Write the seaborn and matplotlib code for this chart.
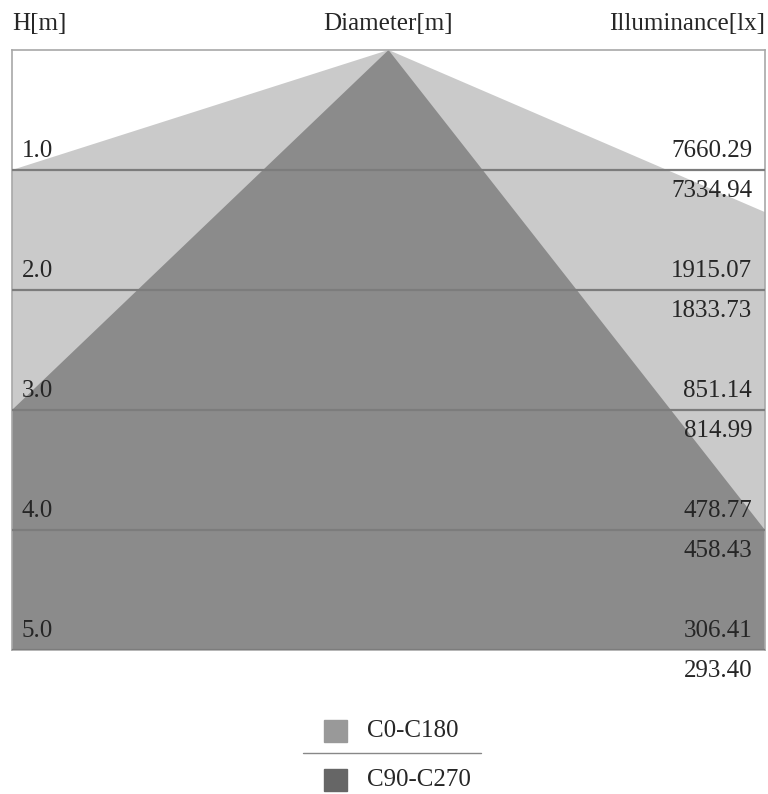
import numpy as np
import pandas as pd
import seaborn as sns
from matplotlib import pyplot as plt
from matplotlib.patches import Rectangle
from matplotlib.lines import Line2D

# mounting heights and illuminance per plane
heights = [1.0, 2.0, 3.0, 4.0, 5.0]
lux_c0 = [7660.29, 1915.07, 851.14, 478.77, 306.41]
lux_c90 = [7334.94, 1833.73, 814.99, 458.43, 293.40]

# beam half-width (m) at 1 m height, left / right of the axis
c0_half = [3.0, 2.22]
c90_half = [1.0, 0.75]

planes = ["C0-C180", "C90-C270"]

sns.set_theme(style="white")
plt.rcParams['font.family'] = ['Liberation Serif', 'DejaVu Serif']
fs = 18

W, H = 768, 794
fig = plt.figure(figsize=(W / 100, H / 100), dpi=100)
ax = fig.add_axes([12 / W, 1 - 650 / H, 753 / W, 600 / H])

xmax = 3.0
hmax = heights[-1]

# beam cones, clipped by the axes box
ax.fill([0, -c0_half[0] * hmax, c0_half[1] * hmax], [0, hmax, hmax],
        color='#cacaca', lw=0, zorder=1)
ax.fill([0, -c90_half[0] * hmax, c90_half[1] * hmax], [0, hmax, hmax],
        color='#8b8b8b', lw=0, zorder=2)

for h in heights:
    df = pd.DataFrame({'x': [-xmax, xmax], 'y': [h, h]})
    sns.lineplot(data=df, x='x', y='y', color='#7c7c7c', lw=1.6, ax=ax, zorder=3)

for h, a, b in zip(heights, lux_c0, lux_c90):
    ax.text(0.013, h - 0.065, f"{h:.1f}", transform=ax.get_yaxis_transform(),
            ha='left', va='bottom', fontsize=fs, zorder=4)
    ax.text(0.983, h - 0.065, f"{a:.2f}", transform=ax.get_yaxis_transform(),
            ha='right', va='bottom', fontsize=fs, zorder=4)
    ax.text(0.983, h + 0.085, f"{b:.2f}", transform=ax.get_yaxis_transform(),
            ha='right', va='top', fontsize=fs, zorder=4, clip_on=False)

ax.set_xlim(-xmax, xmax)
ax.set_ylim(hmax, 0)
ax.set_xticks([])
ax.set_yticks([])
ax.set_xlabel('')
ax.set_ylabel('')
for s in ax.spines.values():
    s.set_color('#a8a8a8')
    s.set_linewidth(1.2)

# header
fig.text(12 / W, 1 - 24 / H, "H[m]", ha='left', va='center', fontsize=fs)
fig.text(388 / W, 1 - 24 / H, "Diameter[m]", ha='center', va='center', fontsize=fs)
fig.text(765 / W, 1 - 24 / H, "Illuminance[lx]", ha='right', va='center', fontsize=fs)

# legend with separator
swatch = ['#999999', '#666666']
rows = [731, 780]
for name, c, yc in zip(planes, swatch, rows):
    fig.patches.append(Rectangle((324 / W, 1 - (yc + 11) / H), 23 / W, 22 / H,
                                 color=c, transform=fig.transFigure))
    fig.text(367 / W, 1 - yc / H, name, ha='left', va='center', fontsize=fs)
fig.lines.append(Line2D([303 / W, 481 / W], [1 - 753 / H, 1 - 753 / H],
                        color='#888888', lw=1, transform=fig.transFigure))

fig.savefig('out.png', dpi=100)
